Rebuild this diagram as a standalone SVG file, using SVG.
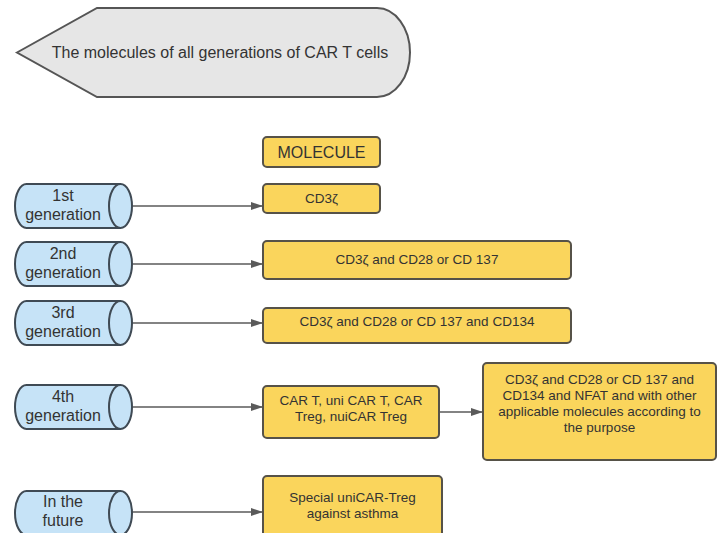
<svg xmlns="http://www.w3.org/2000/svg" width="723" height="533" viewBox="0 0 723 533">
<style>
  text { font-family: "Liberation Sans", Arial, sans-serif; fill: #333; text-anchor: middle; }
  .cyl { fill: #c6e3f7; stroke: #3f4a54; stroke-width: 2; }
  .cyl-in { fill: none; stroke: #3f4a54; stroke-width: 2; }
  .box { fill: #fad55c; stroke: #565248; stroke-width: 2; }
  .title { fill: #e6e6e6; stroke: #555; stroke-width: 2; }
  .lbl { font-size: 16px; }
  .bt { font-size: 13.5px; }
  .conn { stroke: #5a5a5a; stroke-width: 1.6; fill: none; marker-end: url(#arr); }
</style>
<defs>
  <marker id="arr" viewBox="0 0 12 10" refX="12" refY="5" markerWidth="12" markerHeight="10" markerUnits="userSpaceOnUse" orient="auto">
    <path d="M0,1 L12,5 L0,9 Z" fill="#5a5a5a"/>
  </marker>
</defs>
<rect width="723" height="533" fill="#ffffff"/>

<g id="title">
  <path class="title" d="M17,52.5 L97,8 L377,8 A33,44.5 0 0 1 377,97 L97,97 Z"/>
  <text class="lbl" x="220" y="58">The molecules of all generations of CAR T cells</text>
</g>

<g id="connectors">
  <line class="conn" x1="132" y1="206" x2="263" y2="206"/>
  <line class="conn" x1="132" y1="264" x2="263" y2="264"/>
  <line class="conn" x1="132" y1="323" x2="263" y2="323"/>
  <line class="conn" x1="132" y1="407" x2="263" y2="407"/>
  <line class="conn" x1="439" y1="412" x2="483" y2="412"/>
  <line class="conn" x1="132" y1="512" x2="263" y2="512"/>
</g>

<g id="gen1">
  <path class="cyl" d="M26.5,184 L120.5,184 A11.5,22 0 0 1 120.5,228 L26.5,228 A11.5,22 0 0 1 26.5,184 Z"/>
  <path class="cyl-in" d="M120.5,184 A11.5,22 0 0 0 120.5,228"/>
  <text class="lbl" x="63" y="201">1st</text>
  <text class="lbl" x="63" y="220">generation</text>
</g>
<g id="gen2">
  <path class="cyl" d="M26.5,242 L120.5,242 A11.5,22 0 0 1 120.5,286 L26.5,286 A11.5,22 0 0 1 26.5,242 Z"/>
  <path class="cyl-in" d="M120.5,242 A11.5,22 0 0 0 120.5,286"/>
  <text class="lbl" x="63" y="259">2nd</text>
  <text class="lbl" x="63" y="278">generation</text>
</g>
<g id="gen3">
  <path class="cyl" d="M26.5,301 L120.5,301 A11.5,22 0 0 1 120.5,345 L26.5,345 A11.5,22 0 0 1 26.5,301 Z"/>
  <path class="cyl-in" d="M120.5,301 A11.5,22 0 0 0 120.5,345"/>
  <text class="lbl" x="63" y="318">3rd</text>
  <text class="lbl" x="63" y="337">generation</text>
</g>
<g id="gen4">
  <path class="cyl" d="M26.5,385 L120.5,385 A11.5,22 0 0 1 120.5,429 L26.5,429 A11.5,22 0 0 1 26.5,385 Z"/>
  <path class="cyl-in" d="M120.5,385 A11.5,22 0 0 0 120.5,429"/>
  <text class="lbl" x="63" y="402">4th</text>
  <text class="lbl" x="63" y="421">generation</text>
</g>
<g id="future">
  <path class="cyl" d="M26.5,491 L120.5,491 A11.5,22 0 0 1 120.5,535 L26.5,535 A11.5,22 0 0 1 26.5,491 Z"/>
  <path class="cyl-in" d="M120.5,491 A11.5,22 0 0 0 120.5,535"/>
  <text class="lbl" x="63" y="507">In the</text>
  <text class="lbl" x="63" y="526">future</text>
</g>

<g id="molecule">
  <rect class="box" x="263" y="137" width="117" height="30" rx="4"/>
  <text class="lbl" x="321.5" y="158">MOLECULE</text>
</g>
<g id="m1">
  <rect class="box" x="263" y="184" width="117" height="29" rx="4"/>
  <text class="bt" x="321.5" y="203">CD3ζ</text>
</g>
<g id="m2">
  <rect class="box" x="263" y="241" width="308" height="38" rx="4"/>
  <text class="bt" x="417" y="264">CD3ζ and CD28 or CD 137</text>
</g>
<g id="m3">
  <rect class="box" x="263" y="308" width="308" height="35" rx="4"/>
  <text class="bt" x="417" y="326">CD3ζ and CD28 or CD 137 and CD134</text>
</g>
<g id="m4a">
  <rect class="box" x="263" y="386" width="176" height="52" rx="4"/>
  <text class="bt" x="351" y="405">CAR T, uni CAR T, CAR</text>
  <text class="bt" x="351" y="421">Treg, nuiCAR Treg</text>
</g>
<g id="m4b">
  <rect class="box" x="483" y="363" width="233" height="97" rx="4"/>
  <text class="bt" x="599.5" y="384">CD3ζ and CD28 or CD 137 and</text>
  <text class="bt" x="599.5" y="400">CD134 and NFAT and with other</text>
  <text class="bt" x="599.5" y="416">applicable molecules according to</text>
  <text class="bt" x="599.5" y="432">the purpose</text>
</g>
<g id="m5">
  <rect class="box" x="263" y="476" width="179" height="64" rx="4"/>
  <text class="bt" x="352.5" y="502">Special uniCAR-Treg</text>
  <text class="bt" x="352.5" y="518">against asthma</text>
</g>
</svg>
